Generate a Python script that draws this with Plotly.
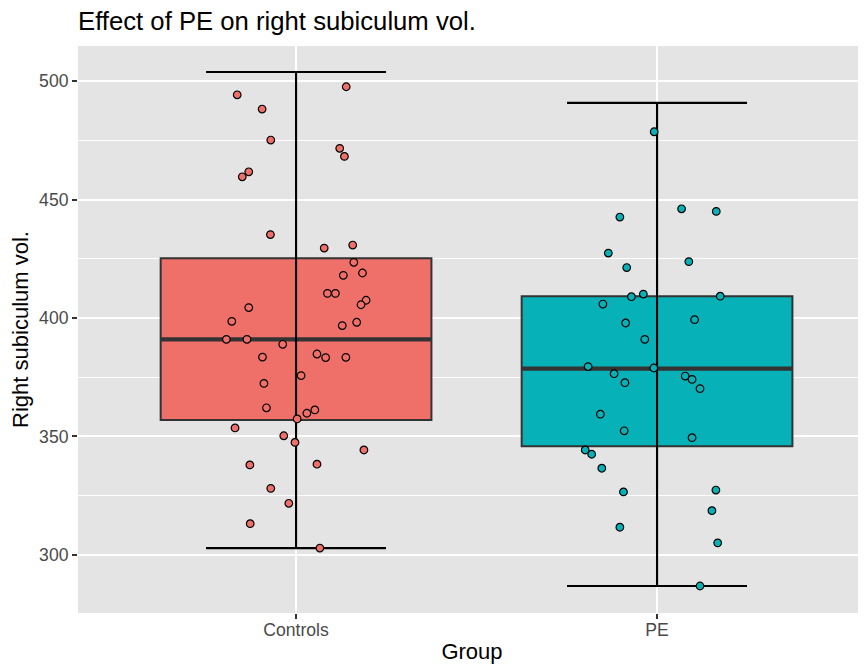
import plotly.graph_objects as go

# ---------------- data ----------------
groups = ["Controls", "PE"]
fill_colors = ["#EF6F69", "#07B1B8"]

controls_vol = [497.6, 494.2, 488.2, 475.1, 471.6, 468.2, 461.7, 459.6, 435.2,
                430.8, 429.5, 423.5, 419.0, 418.0, 410.4, 410.4, 407.5, 405.6,
                404.4, 398.6, 398.2, 396.8, 391.0, 391.0, 388.9, 384.8, 383.5,
                383.3, 383.4, 375.7, 372.4, 362.1, 361.2, 359.8, 357.4, 353.6,
                350.3, 347.5, 344.3, 338.0, 338.3, 328.1, 321.8, 313.2, 302.9]
controls_jitter = [0.139, -0.163, -0.094, -0.070, 0.121, 0.134, -0.131, -0.149, -0.071,
                   0.157, 0.078, 0.160, 0.184, 0.131, 0.087, 0.109, 0.194, 0.180,
                   -0.131, -0.178, 0.168, 0.128, -0.193, -0.136, -0.037, 0.058, -0.093,
                   0.082, 0.138, 0.014, -0.089, -0.082, 0.052, 0.030, 0.003, -0.169,
                   -0.034, -0.003, 0.188, -0.128, 0.058, -0.070, -0.020, -0.127, 0.066]

pe_vol = [478.6, 446.1, 445.0, 442.6, 427.4, 423.8, 421.3, 410.1, 409.0, 409.2,
          405.9, 399.3, 397.9, 391.0, 379.5, 378.9, 376.5, 375.5, 374.1, 372.7,
          370.2, 359.4, 352.4, 349.5, 344.3, 342.5, 336.6, 327.4, 326.6, 318.7,
          311.7, 305.1, 286.9]
pe_jitter = [-0.008, 0.068, 0.164, -0.103, -0.135, 0.088, -0.084, -0.038, -0.071, 0.175,
             -0.150, 0.104, -0.087, -0.034, -0.191, -0.009, -0.119, 0.078, 0.097, -0.089,
             0.119, -0.157, -0.091, 0.097, -0.199, -0.181, -0.153, 0.163, -0.093, 0.152,
             -0.103, 0.168, 0.119]

# box statistics
q1 = [357.0, 345.9]
median = [391.0, 378.6]
q3 = [425.2, 409.2]
whisker_low = [302.9, 286.9]
whisker_high = [503.8, 490.8]

y_ticks = [300, 350, 400, 450, 500]

title_text = "Effect of PE on right subiculum vol."
x_title = "Group"
y_title = "Right subiculum vol."

# ---------------- figure ----------------
FONT = "Liberation Sans, Arial, Helvetica, sans-serif"
# the page body adds an 8px offset, so the figure is drawn 8px smaller
W, H = 858, 656
pos = list(range(len(groups)))
box_width = 0.75
fig = go.Figure()

for i in pos:
    fig.add_trace(go.Box(
        x=[i], q1=[q1[i]], median=[median[i]], q3=[q3[i]],
        lowerfence=[whisker_low[i]], upperfence=[whisker_high[i]],
        width=box_width, whiskerwidth=0, boxpoints=False,
        fillcolor=fill_colors[i], line=dict(color="#333333", width=2),
        showlegend=False, hoverinfo="skip"))

# thick median lines
fig.add_trace(go.Scatter(
    x=pos, y=median, mode="markers", marker=dict(size=1, opacity=0),
    error_x=dict(type="data", array=[box_width / 2] * len(pos), symmetric=True,
                 width=0, thickness=4.2, color="#333333"),
    showlegend=False, hoverinfo="skip"))

# error-bar whiskers
mid = [(lo + hi) / 2 for lo, hi in zip(whisker_low, whisker_high)]
fig.add_trace(go.Scatter(
    x=pos, y=mid, mode="markers", marker=dict(size=1, opacity=0),
    error_y=dict(type="data", symmetric=False,
                 array=[hi - m for hi, m in zip(whisker_high, mid)],
                 arrayminus=[m - lo for lo, m in zip(whisker_low, mid)],
                 width=90, thickness=2.1, color="black"),
    showlegend=False, hoverinfo="skip"))

# jittered points
for i, (vals, jit) in enumerate([(controls_vol, controls_jitter), (pe_vol, pe_jitter)]):
    fig.add_trace(go.Scatter(
        x=[i + j for j in jit], y=vals, mode="markers",
        marker=dict(color=fill_colors[i], size=7.6, line=dict(color="black", width=1.2)),
        showlegend=False, name=groups[i]))

axis_common = dict(
    showgrid=True, gridcolor="white", gridwidth=2.1, zeroline=False,
    ticks="outside", ticklen=5, tickwidth=2, tickcolor="#333333",
    tickfont=dict(family=FONT, size=17.6, color="#4A4A4A"),
    showline=False, fixedrange=True, automargin=False,
)

plot_w = W - 70  # left margin 70, right 0
fig.update_layout(
    width=W, height=H,
    margin=dict(l=70, r=0, t=38, b=51, autoexpand=False),
    paper_bgcolor="white", plot_bgcolor="#E4E4E4",
    font=dict(family=FONT),
    title=dict(text=title_text, x=0, xref="paper", xanchor="left",
               y=1 - 13 / H, yref="container", yanchor="middle",
               font=dict(family=FONT, size=25.7, color="black")),
    xaxis=dict(range=[-0.604, -0.604 + plot_w / 361], tickvals=pos, ticktext=groups,
               ticklabelstandoff=-4,
               title=dict(text=x_title, font=dict(family=FONT, size=22, color="black"),
                          standoff=7),
               **axis_common),
    yaxis=dict(range=[275.5, 514.8], tickvals=y_ticks,
               minor=dict(dtick=25, tick0=275, showgrid=True, gridcolor="white",
                          gridwidth=1.05, ticks=""),
               title=dict(text=y_title, font=dict(family=FONT, size=22, color="black"),
                          standoff=6),
               **axis_common),
)

fig.write_html("out.html")
